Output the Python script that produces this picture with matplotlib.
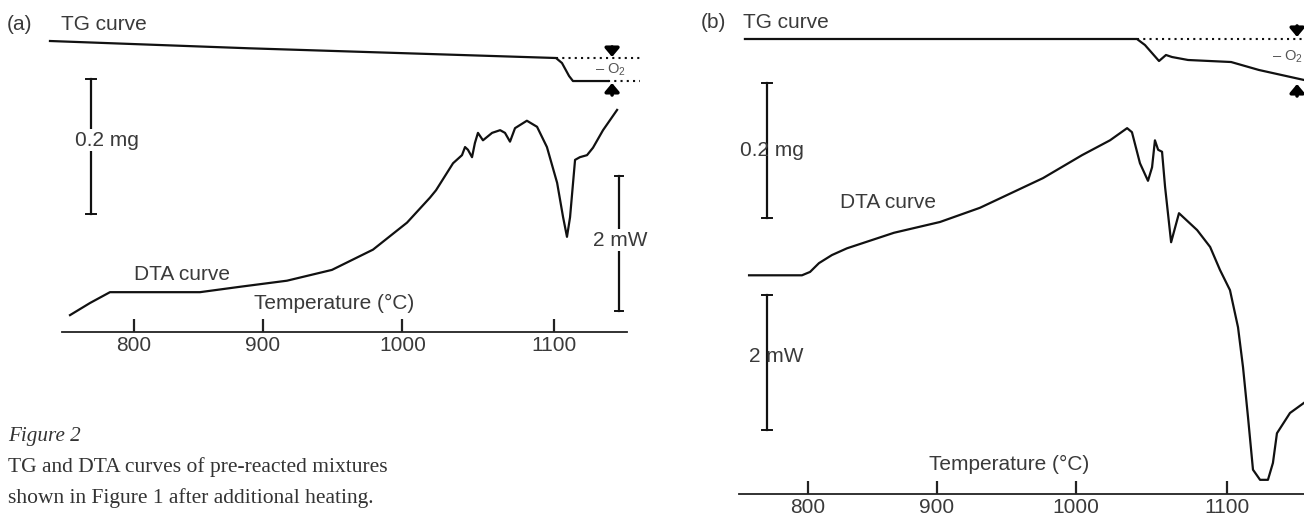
import numpy as np
import matplotlib
matplotlib.use("Agg")
import matplotlib.pyplot as plt

# ---------------- data ----------------
tick_temps = [800, 900, 1000, 1100]
tick_labels = ["800", "900", "1000", "1100"]

# non-linear recorder temperature scale (T -> chart units), read from tick spacing
scale_T = [600, 800, 900, 1000, 1100, 1300]
scale_U = [-2.0, 0.0, 1.0, 2.08, 3.255, 5.755]

# panel (a)
a_dta_T = [750.9, 766.4, 781.8, 851.4, 882.4, 917.3, 949.5, 978.9, 1003.0, 1018.1,
           1022.1, 1033.3, 1039.2, 1041.2, 1043.1, 1045.8, 1047.7, 1049.7, 1053.0,
           1059.0, 1064.3, 1067.5, 1070.8, 1074.1, 1081.9, 1088.6, 1095.1, 1101.7,
           1105.4, 1107.8, 1109.7, 1112.8, 1115.8, 1120.2, 1123.9, 1130.1, 1138.8]
a_dta_mW = [0.25, 0.43, 0.59, 0.59, 0.67, 0.76, 0.92, 1.22, 1.62, 1.99,
            2.10, 2.50, 2.62, 2.74, 2.70, 2.59, 2.80, 2.95, 2.84,
            2.95, 2.99, 2.95, 2.82, 3.02, 3.13, 3.04, 2.74, 2.21,
            1.70, 1.41, 1.70, 2.55, 2.59, 2.62, 2.73, 2.99, 3.29]
a_tg_T = [735.4, 889.4, 1101.0, 1104.7, 1109.1, 1111.5, 1133.2]
a_tg_mg = [0.0, -0.0108, -0.0252, -0.0326, -0.0519, -0.0593, -0.0593]

# panel (b)
b_dta_T = [754.2, 795.3, 801.6, 808.5, 818.6, 830.3, 866.8, 902.4, 931.1, 976.5,
           1004.2, 1022.7, 1034.0, 1037.2, 1042.5, 1047.8, 1050.5, 1052.4, 1054.5,
           1057.1, 1059.1, 1063.1, 1068.3, 1080.3, 1088.9, 1095.4, 1101.9, 1106.9,
           1110.0, 1113.1, 1116.2, 1120.6, 1125.5, 1128.6, 1131.1, 1139.2, 1147.9]
b_dta_mW = [3.24, 3.24, 3.29, 3.42, 3.54, 3.64, 3.87, 4.03, 4.24, 4.68,
            5.02, 5.24, 5.42, 5.36, 4.90, 4.64, 4.84, 5.24, 5.10,
            5.07, 4.55, 3.73, 4.16, 3.91, 3.66, 3.32, 3.02, 2.47,
            1.88, 1.14, 0.36, 0.21, 0.21, 0.46, 0.90, 1.20, 1.35]
b_tg_T = [751.0, 1040.5, 1045.8, 1055.1, 1059.7, 1063.7, 1074.3, 1102.6, 1119.9, 1147.9]
b_tg_mg = [0.0, 0.0, -0.0089, -0.0326, -0.0237, -0.0267, -0.0311, -0.0341, -0.0459, -0.0607]

caption_title = "Figure 2"
caption_lines = ["TG and DTA curves of pre-reacted mixtures",
                 "shown in Figure 1 after additional heating."]

# ---------------- style ----------------
plt.rcParams['font.family'] = ['Liberation Sans', 'DejaVu Sans']
plt.rcParams['mathtext.fontset'] = 'custom'
plt.rcParams['mathtext.rm'] = 'Liberation Sans'
plt.rcParams['mathtext.it'] = 'Liberation Sans'
TXT = '#3a3a3a'
LINE = '#111111'
W, H = 1304, 518

fig = plt.figure(figsize=(W / 100, H / 100), dpi=100)


def fwd(t):
    return np.interp(t, scale_T, scale_U)


def inv(u):
    return np.interp(u, scale_U, scale_T)


def px_axes(x0, y0, x1, y1):
    return fig.add_axes([x0 / W, 1 - y1 / H, (x1 - x0) / W, (y1 - y0) / H])


def ftext(px, py, s, **kw):
    kw.setdefault('color', TXT)
    kw.setdefault('fontsize', 15)
    kw.setdefault('ha', 'center')
    kw.setdefault('va', 'center')
    return fig.text(px / W, 1 - py / H, s, **kw)


def make_panel(x0, x1, ybot, px800, ppu, spine_px, dta_top, tg_top):
    ax = px_axes(x0, 0, x1, ybot)
    ax.set_xscale('function', functions=(fwd, inv))
    ax.set_xlim(inv((x0 - px800) / ppu), inv((x1 - px800) / ppu))
    ax.set_ylim(0, dta_top)
    for s in ['top', 'left', 'right']:
        ax.spines[s].set_visible(False)
    ax.spines['bottom'].set_bounds(inv((spine_px[0] - px800) / ppu),
                                   inv((spine_px[1] - px800) / ppu))
    ax.spines['bottom'].set_linewidth(1.3)
    ax.spines['bottom'].set_color('#222222')
    ax.set_xticks(tick_temps)
    ax.set_xticklabels(tick_labels)
    ax.xaxis.set_minor_locator(matplotlib.ticker.NullLocator())
    ax.tick_params(axis='x', direction='in', length=9.5, width=1.6, color='#222222',
                   labelsize=15, labelcolor=TXT, pad=3)
    ax.set_yticks([])
    ax.patch.set_alpha(0)
    ax2 = ax.twinx()
    ax2.set_ylim(tg_top[0], tg_top[1])
    for s in ax2.spines.values():
        s.set_visible(False)
    ax2.set_yticks([])
    return ax, ax2


def scale_bar(ax, x, y0, y1, half_w):
    ax.plot([x, x], [y0, y1], color=LINE, lw=1.6, clip_on=False, zorder=2)
    for y in (y0, y1):
        ax.plot([x - half_w, x + half_w], [y, y], color=LINE, lw=1.4,
                clip_on=False, zorder=2)


def arrow(ax, x, tail, tip):
    ax.annotate('', xy=(x, tip), xytext=(x, tail), annotation_clip=False,
                arrowprops=dict(arrowstyle='-|>,head_width=0.42,head_length=0.5',
                                lw=2.6, color='black', shrinkA=0, shrinkB=0))


# ---------------- panel (a) ----------------
axa, axa2 = make_panel(40, 650, 332, 133.5, 129.3, (62, 627),
                       332 / 67.5, ((41 - 332) / 675, 41 / 675))
axa.plot(a_dta_T, a_dta_mW, color=LINE, lw=1.6, solid_joinstyle='round', clip_on=False)
axa2.plot(a_tg_T, a_tg_mg, color=LINE, lw=1.6, solid_joinstyle='round', clip_on=False)
axa2.plot([a_tg_T[2], 1153.0], [a_tg_mg[2]] * 2, color=LINE, lw=1.5,
          linestyle=(0, (1, 2)), clip_on=False)
axa2.plot([a_tg_T[-1], 1153.0], [a_tg_mg[-1]] * 2, color=LINE, lw=1.5,
          linestyle=(0, (1, 2)), clip_on=False)
arrow(axa2, 1135.7, -0.0089, -0.0237)
arrow(axa2, 1135.7, -0.080, -0.0622)
axa2.text(1134.4, -0.043, '– O$_2$', fontsize=10.5, color='#555555',
          ha='center', va='center', clip_on=False)
scale_bar(axa2, 767.1, -0.0563, -0.2563, 4.0)
scale_bar(axa, 1140.0, 2.311, 0.311, 2.6)

ftext(19, 25, '(a)')
ftext(103.5, 25, 'TG curve')
ftext(182.5, 275, 'DTA curve')
ftext(334, 303, 'Temperature (°C)')
ftext(107, 140, '0.2 mg', bbox=dict(facecolor='white', edgecolor='none', pad=1), zorder=5)
ftext(620, 240, '2 mW', bbox=dict(facecolor='white', edgecolor='none', pad=1), zorder=5)

# ---------------- panel (b) ----------------
axb, axb2 = make_panel(700, 1304, 494, 808, 128.7, (739, 1304),
                       494 / 67.5, ((39 - 494) / 675, 39 / 675))
axb.plot(b_dta_T, b_dta_mW, color=LINE, lw=1.6, solid_joinstyle='round', clip_on=False)
axb2.plot(b_tg_T, b_tg_mg, color=LINE, lw=1.6, solid_joinstyle='round', clip_on=False)
axb2.plot([b_tg_T[1], 1150.0], [0.0, 0.0], color=LINE, lw=1.5,
          linestyle=(0, (1, 2)), clip_on=False)
arrow(axb2, 1143.6, 0.0193, 0.003)
arrow(axb2, 1143.6, -0.0844, -0.0667)
ftext(1303, 57, '– O$_2$', fontsize=10.5, color='#555555', ha='right')
scale_bar(axb2, 768.1, -0.0652, -0.2652, 4.0)
scale_bar(axb, 768.1, 2.948, 0.948, 4.0)

ftext(713, 22, '(b)')
ftext(786, 22, 'TG curve')
ftext(888, 202, 'DTA curve')
ftext(1009, 464, 'Temperature (°C)')
ftext(772, 150, '0.2 mg')
ftext(776, 357, '2 mW')

# ---------------- caption ----------------
ftext(8, 437, caption_title, ha='left', family=['Liberation Serif', 'DejaVu Serif'],
      style='italic', fontsize=15.2, color='#333333')
for i, line in enumerate(caption_lines):
    ftext(8, 467 + 31 * i, line, ha='left', family=['Liberation Serif', 'DejaVu Serif'],
          fontsize=15.5, color='#333333')

fig.savefig('out.png', dpi=100)
